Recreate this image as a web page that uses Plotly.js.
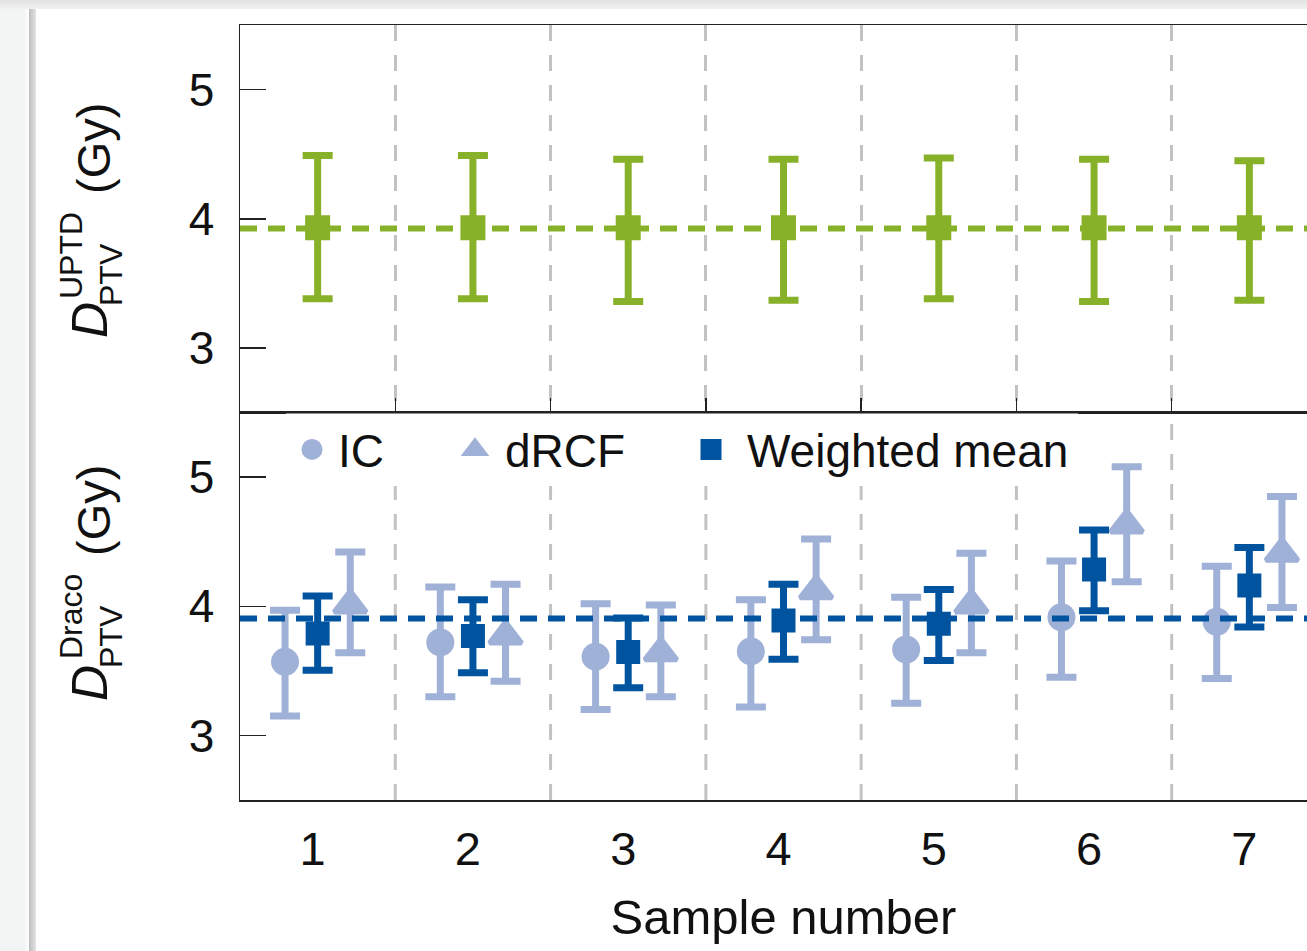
<!DOCTYPE html>
<html>
<head>
<meta charset="utf-8">
<script src="https://cdn.plot.ly/plotly-3.0.1.min.js"></script>
<style>
  html, body { margin: 0; padding: 0; width: 1307px; height: 951px; overflow: hidden; background: #ffffff; }
  #topband { position: absolute; left: 0; top: 0; width: 1307px; height: 9px; background: linear-gradient(#e2e2e2, #f1f1f1); }
  #leftstrip { position: absolute; left: 0; top: 9px; width: 26px; height: 942px; background: #f3f5f5; }
  #leftgap { position: absolute; left: 26px; top: 9px; width: 3px; height: 942px; background: #fbfbfb; }
  #leftshadow { position: absolute; left: 29px; top: 9px; width: 7px; height: 942px; background: linear-gradient(to right, #bdbdbd, #e4e4e4); }
  #chart { position: absolute; left: 0; top: 0; width: 1340px; height: 951px; }
</style>
</head>
<body>
<div id="topband"></div>
<div id="leftstrip"></div>
<div id="leftgap"></div>
<div id="leftshadow"></div>
<div id="chart"></div>
<script>
// ---------- data ----------
const samples = [1, 2, 3, 4, 5, 6, 7];
const sampleLabels = ['1', '2', '3', '4', '5', '6', '7'];
const sampleBoundaries = [1.5, 2.5, 3.5, 4.5, 5.5, 6.5];
const doseTicks = [3, 4, 5];

// Top panel: D_PTV^UPTD (Gy)
const uptdValue = [3.93, 3.93, 3.93, 3.93, 3.93, 3.93, 3.93];
const uptdUpper = [4.49, 4.49, 4.46, 4.46, 4.47, 4.46, 4.45];
const uptdLower = [3.38, 3.38, 3.36, 3.37, 3.38, 3.36, 3.37];
const uptdMean = 3.925;

// Bottom panel: D_PTV^Draco (Gy)
const icValue = [3.57, 3.72, 3.61, 3.65, 3.665, 3.915, 3.88];
const icUpper = [3.97, 4.15, 4.02, 4.05, 4.07, 4.35, 4.31];
const icLower = [3.15, 3.30, 3.20, 3.22, 3.25, 3.45, 3.44];

const drcfValue = [4.01, 3.77, 3.64, 4.12, 4.01, 4.63, 4.41];
const drcfUpper = [4.42, 4.17, 4.01, 4.52, 4.41, 5.08, 4.85];
const drcfLower = [3.64, 3.42, 3.30, 3.74, 3.64, 4.19, 3.99];

const wmValue = [3.79, 3.77, 3.645, 3.89, 3.865, 4.285, 4.16];
const wmUpper = [4.08, 4.05, 3.91, 4.17, 4.13, 4.59, 4.455];
const wmLower = [3.505, 3.485, 3.37, 3.59, 3.58, 3.965, 3.84];
const dracoMean = 3.905;

// ---------- styling ----------
const GREEN = '#88b12a';
const DARK = '#00549f';
const LIGHT = '#9fb1d7';
const GRID = '#c2c2c2';
const FONT = 'Liberation Sans, Arial, Helvetica, sans-serif';
const OFFSET = 0.21;
const GRIDDASH = '16px,14px';

function errs(val, up, lo, color) {
  return {
    type: 'data', symmetric: false,
    array: up.map((u, i) => u - val[i]),
    arrayminus: lo.map((l, i) => val[i] - l),
    color: color, thickness: 7, width: 15
  };
}

const traces = [
  {
    name: 'UPTD', x: samples, y: uptdValue, xaxis: 'x2', yaxis: 'y2',
    type: 'scatter', mode: 'markers', showlegend: false,
    marker: { symbol: 'square', size: 20, color: GREEN, line: { color: GREEN, width: 5 } },
    error_y: errs(uptdValue, uptdUpper, uptdLower, GREEN)
  },
  {
    name: 'IC', x: samples.map(s => s - OFFSET), y: icValue, xaxis: 'x', yaxis: 'y',
    type: 'scatter', mode: 'markers', legend: 'legend',
    marker: { symbol: 'circle', size: 23, color: LIGHT, line: { color: LIGHT, width: 5 } },
    error_y: errs(icValue, icUpper, icLower, LIGHT)
  },
  {
    name: 'dRCF', x: samples.map(s => s + OFFSET), y: drcfValue, xaxis: 'x', yaxis: 'y',
    type: 'scatter', mode: 'markers', legend: 'legend2',
    marker: { symbol: 'triangle-up', size: 28, color: LIGHT, line: { color: LIGHT, width: 5 } },
    error_y: errs(drcfValue, drcfUpper, drcfLower, LIGHT)
  },
  {
    name: 'Weighted mean', x: samples, y: wmValue, xaxis: 'x', yaxis: 'y',
    type: 'scatter', mode: 'markers', legend: 'legend3',
    marker: { symbol: 'square', size: 19, color: DARK, line: { color: DARK, width: 5 } },
    error_y: errs(wmValue, wmUpper, wmLower, DARK)
  }
];

const frame = { showline: true, linecolor: '#222', linewidth: 1.5, mirror: true, zeroline: false };
const yStyle = Object.assign({}, frame, {
  range: [2.5, 5.5], tickmode: 'array', tickvals: doseTicks, ticktext: doseTicks.map(String),
  ticks: 'inside', ticklen: 26, tickwidth: 1.5, tickcolor: '#222', showgrid: false,
  tickfont: { family: FONT, size: 46, color: '#111' }, ticklabelstandoff: 15
});

// paper coordinate helpers (plot area: 240..1327 px, 25..800 px)
const px = v => (v - 240) / 1087;
const py = v => (800 - v) / 775;

function titleAnn(text, x, y, size) {
  return {
    text: text, xref: 'paper', yref: 'paper', x: px(x), y: py(y),
    xanchor: 'center', yanchor: 'middle', showarrow: false, textangle: -90,
    font: { family: FONT, size: size, color: '#111' }
  };
}

const legendBase = {
  orientation: 'h', xanchor: 'left', yanchor: 'top', y: py(413),
  bgcolor: 'rgba(0,0,0,0)', borderwidth: 0,
  font: { family: FONT, size: 46, color: '#111' }
};

// vertical dashed separators of the lower panel (sample boundaries)
const lowerGrid = sampleBoundaries.map(b => ({
  type: 'line', xref: 'x', yref: 'y domain', x0: b, x1: b, y0: 0, y1: 1,
  line: { color: GRID, width: 3, dash: GRIDDASH }, layer: 'below'
}));

const layout = {
  width: 1340, height: 951,
  margin: { l: 240, r: 13, t: 25, b: 151 },
  paper_bgcolor: 'rgba(0,0,0,0)', plot_bgcolor: '#ffffff',
  font: { family: FONT, color: '#111' },
  xaxis: Object.assign({}, frame, {
    domain: [0, 1], anchor: 'y', range: [0.5, 7.5],
    tickmode: 'array', tickvals: samples, ticktext: sampleLabels, ticks: '',
    showgrid: false, ticklabelshift: -5, ticklabelstandoff: 7,
    tickfont: { family: FONT, size: 47, color: '#111' },
    title: { text: 'Sample number', font: { family: FONT, size: 49, color: '#111' }, standoff: 26 }
  }),
  xaxis2: Object.assign({}, frame, {
    domain: [0, 1], anchor: 'y2', range: [0.5, 7.5],
    tickmode: 'array', tickvals: sampleBoundaries, showticklabels: false,
    ticks: 'inside', ticklen: 15, tickwidth: 1.5, tickcolor: '#222',
    showgrid: true, gridcolor: GRID, gridwidth: 3, griddash: GRIDDASH
  }),
  yaxis: Object.assign({}, yStyle, { domain: [0, 0.5], anchor: 'x' }),
  yaxis2: Object.assign({}, yStyle, { domain: [0.5, 1], anchor: 'x2' }),
  legend: Object.assign({}, legendBase, { x: px(286), itemwidth: 42 }),
  legend2: Object.assign({}, legendBase, { x: px(445), itemwidth: 50 }),
  legend3: Object.assign({}, legendBase, { x: px(675), itemwidth: 62 }),
  shapes: lowerGrid.concat([
    { type: 'rect', xref: 'paper', yref: 'paper', x0: px(286), x1: px(1078), y0: py(486), y1: py(413.5),
      fillcolor: '#ffffff', line: { width: 0 }, layer: 'above' },
    { type: 'line', xref: 'x2 domain', yref: 'y2', x0: 0, x1: 1, y0: uptdMean, y1: uptdMean,
      line: { color: GREEN, width: 6, dash: '17px,11px' }, layer: 'above' },
    { type: 'line', xref: 'x domain', yref: 'y', x0: 0, x1: 1, y0: dracoMean, y1: dracoMean,
      line: { color: DARK, width: 6, dash: '17px,11px' }, layer: 'above' }
  ]),
  annotations: [
    titleAnn('<i>D</i>', 90, 320, 50),
    titleAnn('UPTD', 71, 256, 32),
    titleAnn('PTV', 111, 275, 32),
    titleAnn('(Gy)', 93, 149, 47),
    titleAnn('<i>D</i>', 90, 683, 50),
    titleAnn('Draco', 71, 617, 32),
    titleAnn('PTV', 111, 637, 32),
    titleAnn('(Gy)', 93, 511, 47)
  ]
};

Plotly.newPlot('chart', traces, layout, { displayModeBar: false, staticPlot: true });
</script>
</body>
</html>
